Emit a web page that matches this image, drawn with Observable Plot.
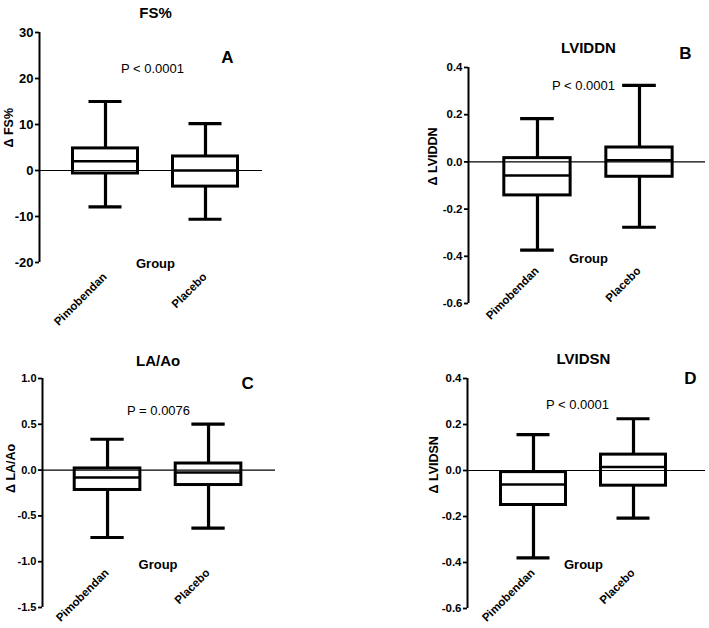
<!DOCTYPE html>
<html><head><meta charset="utf-8">
<script src="https://cdn.jsdelivr.net/npm/d3@7"></script>
<script src="https://cdn.jsdelivr.net/npm/@observablehq/plot@0.6"></script>
<style>
body{margin:0;background:#fff;}
#wrap{position:relative;width:709px;height:628px;font-family:Arial,"Liberation Sans",sans-serif;color:#000;}
#wrap svg{position:absolute;overflow:visible;}
</style></head><body><div id="wrap"></div>
<script>
// ---- data ----
const groups = ["Pimobendan", "Placebo"];
const groupIndex = [0, 1];

// Panel A: FS%
const fsMin = [-7.9, -10.6];
const fsQ1 = [-0.65, -3.5];
const fsMedian = [2.0, 0.0];
const fsQ3 = [4.8, 3.05];
const fsMax = [15.0, 10.2];
const fsTicks = [-20, -10, 0, 10, 20, 30];

// Panel B: LVIDDN
const lviddnMin = [-0.374, -0.277];
const lviddnQ1 = [-0.142, -0.063];
const lviddnMedian = [-0.058, 0.007];
const lviddnQ3 = [0.016, 0.061];
const lviddnMax = [0.183, 0.324];
const lviddnTicks = [-0.6, -0.4, -0.2, 0, 0.2, 0.4];

// Panel C: LA/Ao
const laaoMin = [-0.736, -0.634];
const laaoQ1 = [-0.217, -0.163];
const laaoMedian = [-0.08, -0.025];
const laaoQ3 = [0.018, 0.072];
const laaoMax = [0.337, 0.503];
const laaoTicks = [-1.5, -1.0, -0.5, 0, 0.5, 1.0];

// Panel D: LVIDSN
const lvidsnMin = [-0.38, -0.207];
const lvidsnQ1 = [-0.15, -0.066];
const lvidsnMedian = [-0.061, 0.015];
const lvidsnQ3 = [-0.007, 0.069];
const lvidsnMax = [0.156, 0.225];
const lvidsnTicks = [-0.6, -0.4, -0.2, 0, 0.2, 0.4];

const panelLetters = ["A", "B", "C", "D"];
const titles = ["FS%", "LVIDDN", "LA/Ao", "LVIDSN"];
const yLabels = ["\u0394 FS%", "\u0394 LVIDDN", "\u0394 LA/Ao", "\u0394 LVIDSN"];
const pValues = ["P < 0.0001", "P < 0.0001", "P = 0.0076", "P < 0.0001"];
const xAxisTitle = "Group";

// ---- layout (positions / sizes only) ----
const font = 'Arial, "Liberation Sans", sans-serif';
const panels = [
  {stats: [fsMin, fsQ1, fsMedian, fsQ3, fsMax], ticks: fsTicks, fmt: d => String(d), tickFont: 13,
   left: 0, top: 0, width: 300, height: 314, ml: 39, mr: 38, mt: 32, mb: 52,
   xDomain: [-0.66, 1.57], yDomain: [-20, 30],
   titleDy: -25, letterPos: [1.22, 24.6], pPos: [0.47, 22.2], labelDy: 15, groupDy: 5, yLabDx: -31},
  {stats: [lviddnMin, lviddnQ1, lviddnMedian, lviddnQ3, lviddnMax], ticks: lviddnTicks, fmt: d => d.toFixed(1), tickFont: 11.5,
   left: 400, top: 0, width: 309, height: 330, ml: 68, mr: 4, mt: 67, mb: 27,
   xDomain: [-0.676, 1.647], yDomain: [-0.6, 0.4],
   titleDy: -25, letterPos: [1.451, 0.459], pPos: [0.451, 0.324], labelDy: -32, groupDy: -41, yLabDx: -36},
  {stats: [laaoMin, laaoQ1, laaoMedian, laaoQ3, laaoMax], ticks: laaoTicks, fmt: d => d.toFixed(1), tickFont: 11,
   left: 0, top: 314, width: 300, height: 314, ml: 42, mr: 25, mt: 64, mb: 21,
   xDomain: [-0.644, 1.663], yDomain: [-1.5, 1.0],
   titleDy: -23, letterPos: [1.386, 0.945], pPos: [0.505, 0.65], labelDy: -34, groupDy: -39, yLabDx: -32},
  {stats: [lvidsnMin, lvidsnQ1, lvidsnMedian, lvidsnQ3, lvidsnMax], ticks: lvidsnTicks, fmt: d => d.toFixed(1), tickFont: 11.5,
   left: 400, top: 330, width: 309, height: 298, ml: 67, mr: 4, mt: 48, mb: 20,
   xDomain: [-0.66, 1.72], yDomain: [-0.6, 0.4],
   titleDy: -25, letterPos: [1.57, 0.4], pPos: [0.44, 0.287], labelDy: -35, groupDy: -40, yLabDx: -34}
];

const HB = 0.325; // half box width (x units)
const HC = 0.165; // half cap width

const wrap = document.getElementById("wrap");
panels.forEach((L, k) => {
  const [mn, q1, md, q3, mx] = L.stats;
  const rows = groupIndex.map(i => ({i, name: groups[i], min: mn[i], q1: q1[i], median: md[i], q3: q3[i], max: mx[i]}));
  const svg = Plot.plot({
    width: L.width, height: L.height,
    marginLeft: L.ml, marginRight: L.mr, marginTop: L.mt, marginBottom: L.mb,
    x: {domain: L.xDomain, axis: null},
    y: {domain: L.yDomain, axis: null},
    style: {background: "transparent", overflow: "visible", fontFamily: font, color: "#000"},
    marks: [
      Plot.ruleY([0], {stroke: "#000", strokeWidth: 1.2}),
      Plot.ruleX([L.xDomain[0]], {stroke: "#000", strokeWidth: 2}),
      Plot.axisY({ticks: L.ticks, tickFormat: L.fmt, tickSize: 4, tickPadding: 2, fontSize: L.tickFont, fontWeight: "bold", strokeWidth: 1.8, label: null}),
      Plot.ruleX(rows, {x: "i", y1: "min", y2: "q1", stroke: "#000", strokeWidth: 3.2}),
      Plot.ruleX(rows, {x: "i", y1: "q3", y2: "max", stroke: "#000", strokeWidth: 3.2}),
      Plot.rect(rows, {x1: d => d.i - HB, x2: d => d.i + HB, y1: "q1", y2: "q3", fill: "none", stroke: "#000", strokeWidth: 3}),
      Plot.ruleY(rows, {y: "median", x1: d => d.i - HB, x2: d => d.i + HB, stroke: "#000", strokeWidth: 2.5}),
      Plot.ruleY(rows, {y: "min", x1: d => d.i - HC, x2: d => d.i + HC, stroke: "#000", strokeWidth: 3.2}),
      Plot.ruleY(rows, {y: "max", x1: d => d.i - HC, x2: d => d.i + HC, stroke: "#000", strokeWidth: 3.2}),
      Plot.text(rows, {x: "i", text: "name", frameAnchor: "bottom", dy: L.labelDy, dx: 2, rotate: -45, textAnchor: "end", fontSize: 11.5, fontWeight: "bold"}),
      Plot.text([xAxisTitle], {x: 0.5, text: d => d, frameAnchor: "bottom", dy: L.groupDy, fontSize: 13, fontWeight: "bold"}),
      Plot.text([titles[k]], {x: 0.5, text: d => d, frameAnchor: "top", dy: L.titleDy, fontSize: 15, fontWeight: "bold"}),
      Plot.text([panelLetters[k]], {x: L.letterPos[0], y: L.letterPos[1], text: d => d, fontSize: 17, fontWeight: "bold"}),
      Plot.text([pValues[k]], {x: L.pPos[0], y: L.pPos[1], text: d => d, fontSize: 13}),
      Plot.text([yLabels[k]], {frameAnchor: "left", dx: L.yLabDx, rotate: -90, text: d => d, fontSize: 12.5, fontWeight: "bold"})
    ]
  });
  svg.style.left = L.left + "px";
  svg.style.top = L.top + "px";
  wrap.appendChild(svg);
});
</script>
</body></html>
